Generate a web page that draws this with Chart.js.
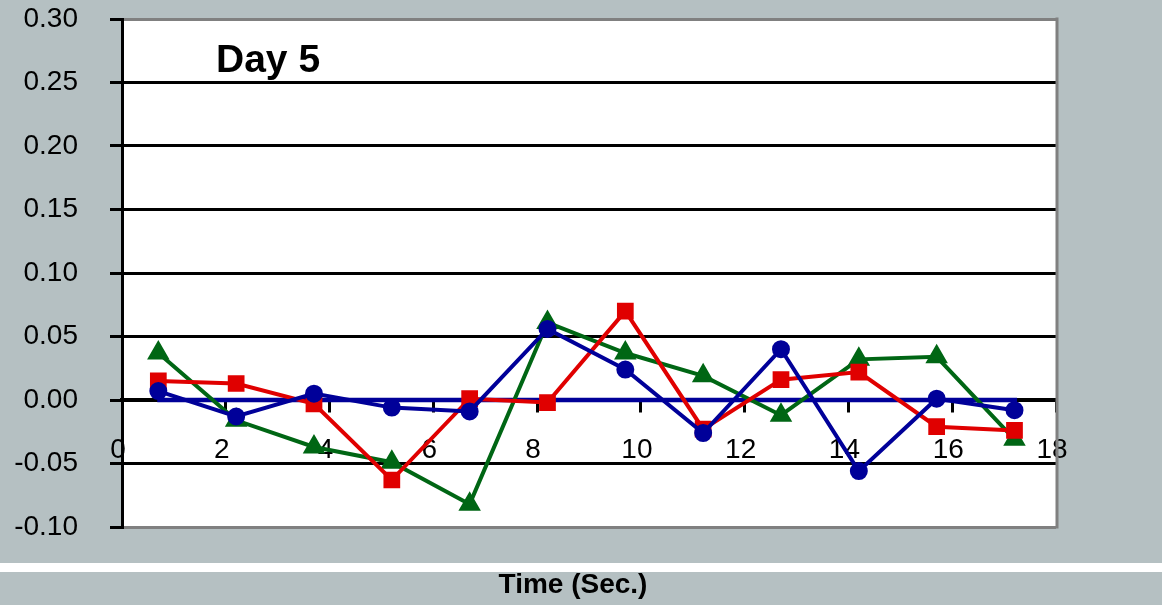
<!DOCTYPE html>
<html>
<head>
<meta charset="utf-8">
<script src="https://cdn.jsdelivr.net/npm/chart.js@4/dist/chart.umd.min.js"></script>
<style>
  html, body { margin: 0; padding: 0; background: #b5c0c2; }
  #wrap { width: 1162px; height: 605px; position: relative; }
</style>
</head>
<body>
<div id="wrap"><canvas id="c" width="1162" height="605"></canvas></div>
<script>
// Sample times (seconds) shared by the three runs
const times = [0.7, 2.2, 3.7, 5.2, 6.7, 8.2, 9.7, 11.2, 12.7, 14.2, 15.7, 17.2];

// Measured deviations for each run
const blueValues  = [0.007, -0.013, 0.005, -0.006, -0.009, 0.056, 0.024, -0.026, 0.040, -0.056, 0.001, -0.008];
const redValues   = [0.015, 0.013, -0.003, -0.063, 0.001, -0.002, 0.070, -0.023, 0.016, 0.022, -0.021, -0.024];
const greenValues = [0.037, -0.016, -0.037, -0.049, -0.082, 0.061, 0.037, 0.019, -0.012, 0.032, 0.034, -0.031];

// Zero reference line across the sampled span
const baselineTimes  = [0.68, 17.25];
const baselineValues = [0, 0];

// Axis ticks
const yTicks = [-0.10, -0.05, 0.00, 0.05, 0.10, 0.15, 0.20, 0.25, 0.30];
const xTicks = [0, 2, 4, 6, 8, 10, 12, 14, 16, 18];

const chartTitle = 'Day 5';
const xAxisTitle = 'Time (Sec.)';

const FONT = '"Liberation Sans", Arial, sans-serif';
const BLUE = '#000099';
const RED = '#e00000';
const GREEN = '#006614';

const pts = (xs, ys) => xs.map((x, i) => ({ x: x, y: ys[i] }));

// Background panel, white plot area, frame and captions
const panel = {
  id: 'panel',
  beforeDraw(chart) {
    const { ctx, chartArea: a, width, height } = chart;
    ctx.save();
    ctx.fillStyle = '#b5c0c2';
    ctx.fillRect(0, 0, width, height);
    ctx.fillStyle = '#ffffff';
    ctx.fillRect(0, 563, width, 9);
    ctx.fillRect(a.left, a.top, a.right - a.left, a.bottom - a.top);
    ctx.restore();
  },
  afterDraw(chart) {
    const { ctx, chartArea: a } = chart;
    ctx.save();
    ctx.strokeStyle = '#808080';
    ctx.lineWidth = 3;
    ctx.beginPath();
    ctx.moveTo(a.right + 1, a.top - 1.5);
    ctx.lineTo(a.right + 1, a.bottom + 1.5);
    ctx.stroke();
    ctx.fillStyle = '#000';
    ctx.font = 'bold 39px ' + FONT;
    ctx.textAlign = 'left';
    ctx.textBaseline = 'alphabetic';
    ctx.fillText(chartTitle, 216, 72);
    ctx.font = 'bold 28px ' + FONT;
    ctx.textAlign = 'center';
    ctx.textBaseline = 'middle';
    ctx.fillText(xAxisTitle, 573, 585);
    ctx.restore();
  }
};

new Chart(document.getElementById('c'), {
  type: 'scatter',
  data: {
    datasets: [
      {
        label: 'Run A',
        data: pts(times, blueValues),
        showLine: true,
        borderColor: BLUE, backgroundColor: BLUE,
        borderWidth: 4, pointStyle: 'circle', pointRadius: 7,
        order: 1
      },
      {
        label: 'Run B',
        data: pts(times, redValues),
        showLine: true,
        borderColor: RED, backgroundColor: RED,
        borderWidth: 4, pointStyle: 'rect', pointRadius: 9,
        order: 2
      },
      {
        label: 'Run C',
        data: pts(times, greenValues),
        showLine: true,
        borderColor: GREEN, backgroundColor: GREEN,
        borderWidth: 4, pointStyle: 'triangle', pointRadius: 9,
        order: 3
      },
      {
        label: 'Zero',
        data: pts(baselineTimes, baselineValues),
        showLine: true,
        borderColor: BLUE, borderWidth: 4.5,
        pointRadius: 0,
        order: 4
      }
    ]
  },
  options: {
    responsive: false,
    animation: false,
    events: [],
    layout: { padding: { left: 0, top: 19, right: 106, bottom: 78 } },
    plugins: { legend: { display: false }, tooltip: { enabled: false }, title: { display: false } },
    scales: {
      x: {
        type: 'linear',
        position: { y: 0 },
        min: 0, max: 18,
        afterBuildTicks(scale) { scale.ticks = xTicks.map(v => ({ value: v })); },
        afterFit(scale) { scale.height = 0; },
        ticks: {
          color: '#000',
          font: { family: FONT, size: 28 },
          padding: 22,
          labelOffset: -4,
          maxRotation: 0,
          autoSkip: false
        },
        grid: {
          drawOnChartArea: false,
          drawTicks: true,
          tickLength: 11,
          tickColor: '#000',
          tickWidth: 3
        },
        border: { color: '#000', width: 3.5 }
      },
      y: {
        min: -0.10, max: 0.30,
        afterBuildTicks(scale) { scale.ticks = yTicks.map(v => ({ value: v })); },
        afterFit(scale) {
          scale.width = 122;
          scale.paddingTop = 0;
          scale.paddingBottom = 0;
        },
        ticks: {
          color: '#000',
          font: { family: FONT, size: 28 },
          padding: 32,
          callback: v => Number(v).toFixed(2)
        },
        grid: {
          color: ctx => (ctx.index === 0 || ctx.index === yTicks.length - 1) ? '#808080' : '#000',
          lineWidth: 3,
          drawTicks: true,
          tickLength: 12,
          tickColor: '#000',
          tickWidth: 3
        },
        border: { color: '#000', width: 3 }
      }
    }
  },
  plugins: [panel]
});
</script>
</body>
</html>
